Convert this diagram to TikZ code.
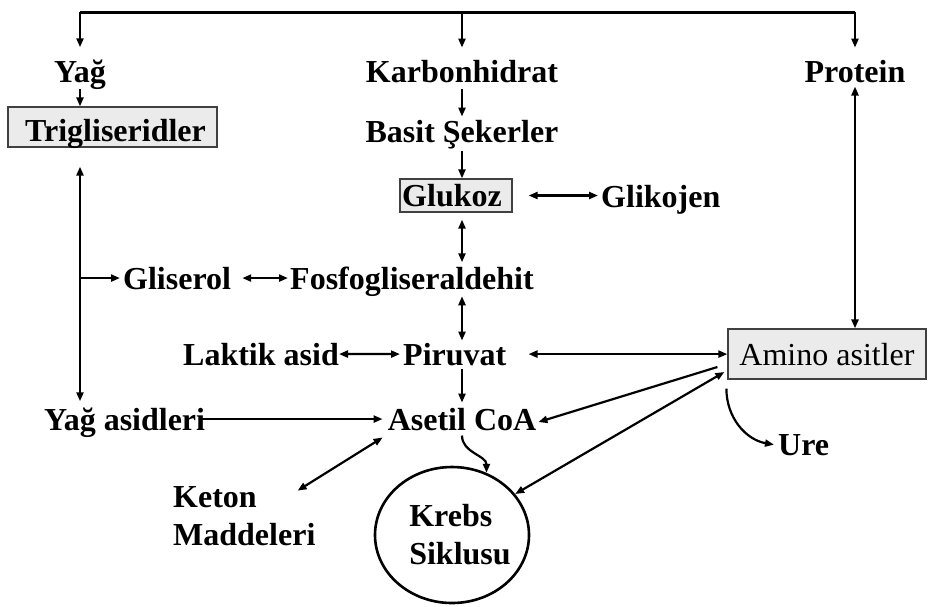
\documentclass[tikz,border=0pt]{standalone}
\usepackage{fontspec}
\setmainfont{Liberation Serif}
\usetikzlibrary{arrows.meta,shapes.geometric,calc}
\definecolor{boxgray}{RGB}{235,235,235}
\newcommand\bigbf{\fontsize{32}{38}\selectfont\bfseries}
\newcommand\bigrm{\fontsize{32}{38}\selectfont\mdseries}
\tikzset{
  lbl/.style={font=\bigbf, inner sep=0pt, anchor=base},
  tbox/.style={draw=black!75, fill=boxgray, line width=1.2pt, inner sep=0pt, anchor=base},
  arr/.style={-{Triangle[length=9pt,width=7pt]}, line width=2.2pt},
  darr/.style={{Triangle[length=9pt,width=7pt]}-{Triangle[length=9pt,width=7pt]}, line width=2.2pt},
  topline/.style={line width=3pt},
}
\begin{document}
\begin{tikzpicture}[x=1pt,y=1pt]
\useasboundingbox (0,0) rectangle (928,-606);
% nodes
\node[lbl] (yag) at (80,-82) {Yağ};
\node[lbl] (karb) at (462,-82) {Karbonhidrat};
\node[lbl] (prot) at (855,-82) {Protein};
\node[tbox, font=\bigbf, minimum width=209pt, text height=34pt, text depth=6pt] (trig) at (112.5,-141) {\hspace*{6pt}Trigliseridler};
\node[lbl] (bas) at (462,-142) {Basit Şekerler};
\node[tbox, font=\bigbf, minimum width=112pt, text height=27pt, text depth=6pt] (glu) at (456,-206) {Glukoz\hspace*{8pt}};
\node[lbl, anchor=base west] (glik) at (601,-207) {Glikojen};
\node[lbl, anchor=base west] (glis) at (123,-289) {Gliserol};
\node[lbl, anchor=base west] (fos) at (290,-289) {Fosfogliseraldehit};
\node[lbl, anchor=base east] (lak) at (339,-365) {Laktik asid};
\node[lbl, anchor=base west] (pir) at (403,-365) {Piruvat};
\node[tbox, font=\bigrm, minimum width=198pt, text height=36pt, text depth=14pt] (amino) at (827,-365) {Amino asitler};
\node[lbl, anchor=base west] (yagas) at (44,-430) {Yağ asidleri};
\node[lbl] (ace) at (462,-430) {Asetil CoA};
\node[lbl, anchor=base west] (ure) at (778,-455) {Ure};
\node[font=\bigbf, inner sep=0pt, anchor=west, align=left] (keton) at (173,-516.5) {Keton\\Maddeleri};
\node[ellipse, draw, line width=2.6pt, minimum width=154pt, minimum height=136pt, inner sep=0pt] (krebs) at (452,-535) {};
\node[font=\bigbf, inner sep=0pt, align=left] (krebstxt) at (460,-534.5) {Krebs\\Siklusu};
\coordinate (tl) at (80,-12);
\coordinate (tm) at (462,-12);
\coordinate (tr) at (855,-12);
% connectors
\draw[topline] (tl) -- (tr);
\draw[arr, shorten >=12pt] (tl) -- (yag.north);
\draw[arr, shorten >=12pt] (tm) -- (karb.north);
\draw[arr, shorten >=12pt] (tr) -- (prot.north);
\draw[arr] (yag.south) -- (yag.south |- trig.north);
\draw[arr, shorten <=6pt, shorten >=3pt] (karb.south) -- (bas.north);
\draw[arr, shorten <=2pt] (bas.south) -- (bas.south |- glu.north);
\draw[darr, shorten <=16pt, shorten >=3pt] (glu.east) -- (glu.east -| glik.west);
\draw[darr, shorten <=7pt, shorten >=4pt] (glu.south -| karb) -- (fos.north -| karb);
\draw[darr, shorten <=11pt, shorten >=2pt] (glis.east) -- (glis.east -| fos.west);
\draw[darr, shorten <=19pt, shorten >=6pt] (trig.south -| yag) -- (yagas.north -| yag);
\draw[arr, shorten >=3pt] (glis.west -| yag) -- (glis.west);
\draw[darr, shorten >=2pt] (fos.south -| karb) -- (pir.north -| karb);
\draw[darr, shorten >=3pt] (lak.east) -- (pir.west);
\draw[darr, shorten <=22pt] (pir.east) -- (pir.east -| amino.west);
\draw[darr, shorten <=4pt] (prot.south) -- (prot.south |- amino.north);
\draw[arr, shorten <=3pt, shorten >=5pt] (pir.south -| karb) -- (ace.north -| karb);
\draw[arr, shorten <=-3pt, shorten >=5pt] (ace.west -| yagas.east) -- (ace.west);
\draw[arr] ([shift={(-10,-13)}]amino.west) -- ([shift={(2,-3)}]ace.east);
\draw[darr] (krebs.33) -- ([shift={(-3,-18)}]amino.west);
\draw[arr] ([shift={(-1,-9)}]amino.south west) to[out=-90,in=170] ([xshift=-4pt]ure.west);
\draw[darr] ([shift={(-18,-4)}]keton.north east) -- ([shift={(-5,-7)}]ace.south west);
\draw[arr] ([yshift=-5pt]ace.south -| karb) to[out=-90,in=90] (krebs.61);
\end{tikzpicture}
\end{document}
